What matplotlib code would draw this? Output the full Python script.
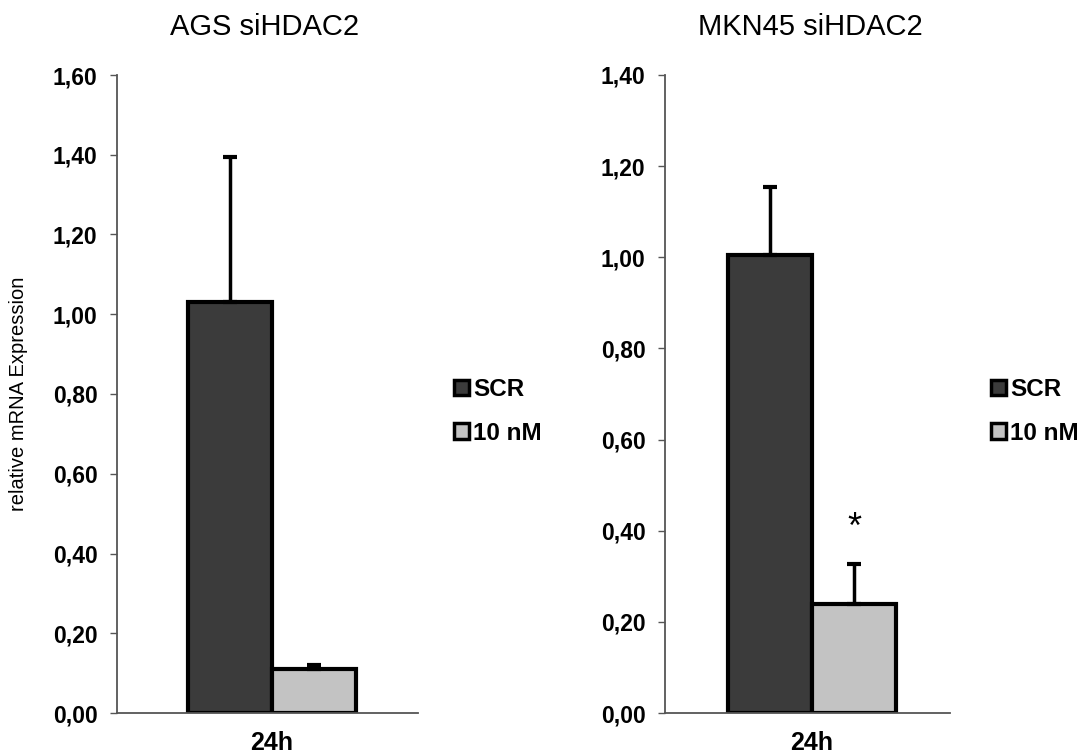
import matplotlib
matplotlib.use("Agg")
import matplotlib.pyplot as plt
from matplotlib.ticker import FuncFormatter, MultipleLocator
from matplotlib.patches import Patch

plt.rcParams['font.family'] = ['Liberation Sans', 'DejaVu Sans']

# data
titles = ['AGS siHDAC2', 'MKN45 siHDAC2']
groups = ['SCR', '10 nM']
category = '24h'
means_ags = [1.03, 0.11]
errs_ags = [0.365, 0.01]
means_mkn = [1.005, 0.24]
errs_mkn = [0.15, 0.087]
ymax = [1.60, 1.40]
stars_mkn = ['', '*']

colors = ['#3b3b3b', '#c3c3c3']
w = 0.28

fig = plt.figure(figsize=(10.88, 7.56), dpi=100)
ax1 = fig.add_axes([117/1088, 1-713/756, 301/1088, 638/756])
ax2 = fig.add_axes([665/1088, 1-713/756, 285/1088, 638/756])

comma = FuncFormatter(lambda v, p: f"{v:.2f}".replace('.', ','))

panels = [(ax1, means_ags, errs_ags, ymax[0], ['', ''], (-0.515, 0.485)),
          (ax2, means_mkn, errs_mkn, ymax[1], stars_mkn, (-0.49, 0.46))]
for ax, means, errs, top, stars, xl in panels:
    xs = [-w/2, w/2]
    for x, m, e, c, s in zip(xs, means, errs, colors, stars):
        ax.bar(x, m, width=w, color=c, edgecolor='black', linewidth=3,
               yerr=[[0], [e]], zorder=2,
               error_kw=dict(ecolor='black', elinewidth=2.5, capsize=5, capthick=3))
        if s:
            ax.text(x, 0.405, s, ha='center', va='center', fontsize=26)
    ax.set_xlim(*xl)
    ax.set_ylim(0, top)
    ax.yaxis.set_major_locator(MultipleLocator(0.2))
    ax.yaxis.set_major_formatter(comma)
    ax.set_xticks([0])
    ax.set_xticklabels([category])
    ax.tick_params(axis='x', length=0, pad=13, labelsize=18)
    ax.tick_params(axis='y', length=5, width=1, color='#555555', pad=9, labelsize=16.5)
    for lab in ax.get_xticklabels() + ax.get_yticklabels():
        lab.set_fontweight('bold')
    for sp in ['top', 'right']:
        ax.spines[sp].set_visible(False)
    for sp in ['left', 'bottom']:
        ax.spines[sp].set_color('#555555')
        ax.spines[sp].set_linewidth(1.3)

ax1.set_ylabel('relative mRNA Expression', fontsize=14.5, labelpad=18)

fig.text(265/1088, 1-27/756, titles[0], ha='center', va='center', fontsize=21)
fig.text(810/1088, 1-27/756, titles[1], ha='center', va='center', fontsize=21)

handles = [Patch(facecolor=c, edgecolor='black', linewidth=2.5) for c in colors]
for xpos in [454/1088, 991/1088]:
    fig.legend(handles, groups, loc='upper left', bbox_to_anchor=(xpos, 1-378/756),
               frameon=False, borderpad=0, borderaxespad=0, handlelength=0.6,
               handleheight=0.6, handletextpad=0.2, labelspacing=0.85,
               prop={'weight': 'bold', 'size': 17.5})

fig.savefig('out.png', dpi=100, facecolor='white')
